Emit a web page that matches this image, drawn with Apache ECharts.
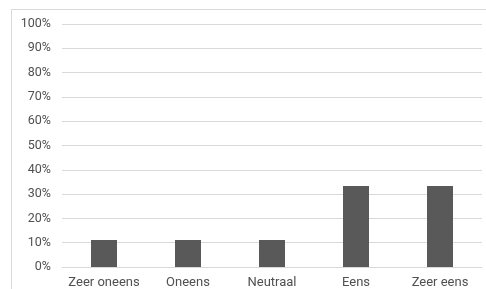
<!DOCTYPE html>
<html>
<head>
<meta charset="utf-8">
<script src="https://cdn.jsdelivr.net/npm/echarts@6/dist/echarts.min.js"></script>
<style>
  html, body { margin: 0; padding: 0; background: #fff; }
  #main { width: 486px; height: 289px; }
</style>
</head>
<body>
<div id="main"></div>
<script>
// data
var categories = ['Zeer oneens', 'Oneens', 'Neutraal', 'Eens', 'Zeer eens'];
var values = [11.1, 11.1, 11.1, 33.3, 33.3];

var chart = echarts.init(document.getElementById('main'));
chart.setOption({
    backgroundColor: '#fff',
    animation: false,
    graphic: [{
        type: 'rect',
        shape: { x: 11.5, y: 9.5, width: 490, height: 300 },
        style: { fill: 'none', stroke: '#d9d9d9', lineWidth: 1 }
    }],
    grid: { left: 62, right: 4, top: 24, bottom: 22 },
    xAxis: {
        type: 'category',
        data: categories,
        axisLine: { show: true, lineStyle: { color: '#d9d9d9' } },
        axisTick: { show: false },
        axisLabel: {
            interval: 0,
            color: '#505050', fontSize: 13, fontFamily: 'Roboto', margin: 9
        }
    },
    yAxis: {
        type: 'value',
        min: 0, max: 100, interval: 10,
        axisLine: { show: false },
        axisTick: { show: false },
        splitLine: { lineStyle: { color: '#d9d9d9' } },
        axisLabel: {
            color: '#505050', fontSize: 12.5, fontFamily: 'Roboto', margin: 11,
            formatter: '{value}%'
        }
    },
    series: [{
        type: 'bar',
        data: values,
        barWidth: 26,
        itemStyle: { color: '#595959' }
    }]
});
</script>
</body>
</html>
